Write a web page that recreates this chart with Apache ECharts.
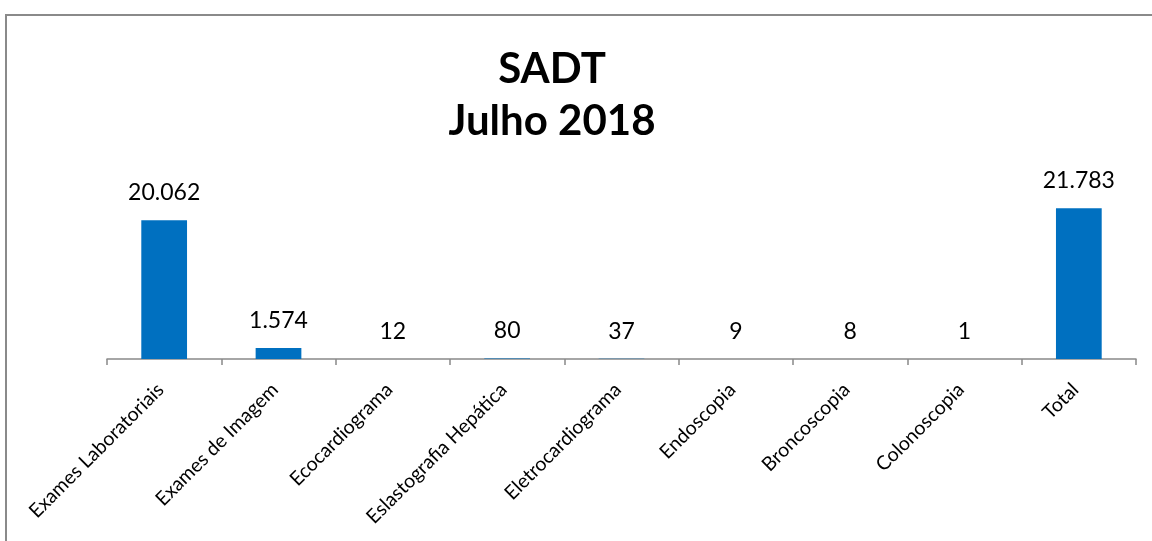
<!DOCTYPE html>
<html>
<head>
<meta charset="utf-8">
<script src="https://cdn.jsdelivr.net/npm/echarts@6/dist/echarts.min.js"></script>
<style>
html,body{margin:0;padding:0;background:#fff;}
#chart{width:1152px;height:541px;}
</style>
</head>
<body>
<div id="chart"></div>
<script>
const categories = ["Exames Laboratoriais","Exames de Imagem","Ecocardiograma","Eslastografia Hepática","Eletrocardiograma","Endoscopia","Broncoscopia","Colonoscopia","Total"];
const values = [20062, 1574, 12, 80, 37, 9, 8, 1, 21783];
const titleLines = ["SADT", "Julho 2018"];

function fmt(v){ return String(v).replace(/\B(?=(\d{3})+(?!\d))/g, "."); }

const chart = echarts.init(document.getElementById('chart'), null, {renderer:'canvas'});
chart.setOption({
  backgroundColor: '#ffffff',
  animation: false,
  graphic: [{
    type: 'rect',
    shape: {x: 6, y: 15, width: 1300, height: 700},
    style: {fill: 'none', stroke: '#8a8a8a', lineWidth: 2},
    silent: true
  }],
  title: {
    text: titleLines.join('\n'),
    left: 547, top: 38, textAlign: 'center',
    textStyle: {fontFamily: 'Lato', fontWeight: 'bold', fontSize: 42, lineHeight: 52, color: '#000'}
  },
  grid: {left: 107, right: 16, top: 151.5, bottom: 182, containLabel: false},
  xAxis: {
    type: 'category',
    data: categories,
    axisLine: {lineStyle: {color: '#898989', width: 1.5}},
    axisTick: {show: true, length: 6, lineStyle: {color: '#898989', width: 1.5}},
    axisLabel: {rotate: 45, margin: 24, padding: [0, 5, 0, 0], interval: 0, fontFamily: 'Lato', fontSize: 19.5, color: '#000'}
  },
  yAxis: {
    type: 'value', min: 0, max: 30000,
    show: false, splitLine: {show: false}
  },
  series: [{
    type: 'bar',
    data: values,
    barCategoryGap: '60%',
    itemStyle: {color: '#0070C0'},
    label: {
      show: true, position: 'top', distance: 16,
      formatter: p => fmt(p.value),
      fontFamily: 'Lato', fontSize: 23, color: '#000'
    }
  }]
});
</script>
</body>
</html>
